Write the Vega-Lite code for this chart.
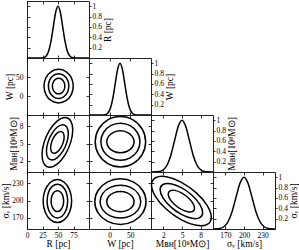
{
"$schema":"https://vega.github.io/schema/vega-lite/v6.json",
"padding":{"left":0,"top":0,"right":0,"bottom":0},
"columns":4,"spacing":0,"bounds":"flush",
"config":{
"view":{"stroke":"#222","strokeWidth":1},
"line":{"color":"black","strokeWidth":1.5},
"axis":{"domain":false,"grid":false,"tickSize":-3,"tickColor":"black","tickWidth":0.8,"labelFont":"Liberation Serif","labelFontSize":7.5,"labelColor":"black","labelPadding":5,"labelFlush":false,"labelOverlap":false,"titleFont":"Liberation Serif","titleFontSize":9.5,"titleFontWeight":"normal","titleColor":"black","titlePadding":1},
"axisY":{"labelPadding":7},
"axisX":{"labelPadding":5,"titlePadding":0}
},
"datasets":{
"A":[{"c":1,"i":0,"x":61.1,"y":26},{"c":1,"i":1,"x":59.75,"y":36.2},{"c":1,"i":2,"x":56.05,"y":43.67},{"c":1,"i":3,"x":51,"y":46.4},{"c":1,"i":4,"x":45.95,"y":43.67},{"c":1,"i":5,"x":42.25,"y":36.2},{"c":1,"i":6,"x":40.9,"y":26},{"c":1,"i":7,"x":42.25,"y":15.8},{"c":1,"i":8,"x":45.95,"y":8.33},{"c":1,"i":9,"x":51,"y":5.6},{"c":1,"i":10,"x":56.05,"y":8.33},{"c":1,"i":11,"x":59.75,"y":15.8},
{"c":2,"i":0,"x":67.5,"y":26},{"c":2,"i":1,"x":65.29,"y":42.35},{"c":2,"i":2,"x":59.25,"y":54.32},{"c":2,"i":3,"x":51,"y":58.7},{"c":2,"i":4,"x":42.75,"y":54.32},{"c":2,"i":5,"x":36.71,"y":42.35},{"c":2,"i":6,"x":34.5,"y":26},{"c":2,"i":7,"x":36.71,"y":9.65},{"c":2,"i":8,"x":42.75,"y":-2.32},{"c":2,"i":9,"x":51,"y":-6.7},{"c":2,"i":10,"x":59.25,"y":-2.32},{"c":2,"i":11,"x":65.29,"y":9.65},
{"c":3,"i":0,"x":74.6,"y":26},{"c":3,"i":1,"x":71.44,"y":48.2},{"c":3,"i":2,"x":62.8,"y":64.45},{"c":3,"i":3,"x":51,"y":70.4},{"c":3,"i":4,"x":39.2,"y":64.45},{"c":3,"i":5,"x":30.56,"y":48.2},{"c":3,"i":6,"x":27.4,"y":26},{"c":3,"i":7,"x":30.56,"y":3.8},{"c":3,"i":8,"x":39.2,"y":-12.45},{"c":3,"i":9,"x":51,"y":-18.4},{"c":3,"i":10,"x":62.8,"y":-12.45},{"c":3,"i":11,"x":71.44,"y":3.8}],
"B":[{"c":1,"i":0,"x":59.91,"y":6.16},{"c":1,"i":1,"x":58.45,"y":6.87},{"c":1,"i":2,"x":54.46,"y":7.12},{"c":1,"i":3,"x":49,"y":6.87},{"c":1,"i":4,"x":43.54,"y":6.16},{"c":1,"i":5,"x":39.55,"y":5.2},{"c":1,"i":6,"x":38.09,"y":4.24},{"c":1,"i":7,"x":39.55,"y":3.53},{"c":1,"i":8,"x":43.54,"y":3.28},{"c":1,"i":9,"x":49,"y":3.53},{"c":1,"i":10,"x":54.46,"y":4.24},{"c":1,"i":11,"x":58.45,"y":5.2},
{"c":2,"i":0,"x":66.63,"y":6.75},{"c":2,"i":1,"x":64.27,"y":7.89},{"c":2,"i":2,"x":57.82,"y":8.31},{"c":2,"i":3,"x":49,"y":7.89},{"c":2,"i":4,"x":40.18,"y":6.75},{"c":2,"i":5,"x":33.73,"y":5.2},{"c":2,"i":6,"x":31.37,"y":3.65},{"c":2,"i":7,"x":33.73,"y":2.51},{"c":2,"i":8,"x":40.18,"y":2.09},{"c":2,"i":9,"x":49,"y":2.51},{"c":2,"i":10,"x":57.82,"y":3.65},{"c":2,"i":11,"x":64.27,"y":5.2},
{"c":3,"i":0,"x":73.77,"y":7.38},{"c":3,"i":1,"x":70.45,"y":8.98},{"c":3,"i":2,"x":61.39,"y":9.57},{"c":3,"i":3,"x":49,"y":8.98},{"c":3,"i":4,"x":36.61,"y":7.38},{"c":3,"i":5,"x":27.55,"y":5.2},{"c":3,"i":6,"x":24.23,"y":3.02},{"c":3,"i":7,"x":27.55,"y":1.42},{"c":3,"i":8,"x":36.61,"y":0.83},{"c":3,"i":9,"x":49,"y":1.42},{"c":3,"i":10,"x":61.39,"y":3.02},{"c":3,"i":11,"x":70.45,"y":5.2}],
"C":[{"c":1,"i":0,"x":59.1,"y":199},{"c":1,"i":1,"x":57.75,"y":208.15},{"c":1,"i":2,"x":54.05,"y":214.85},{"c":1,"i":3,"x":49,"y":217.3},{"c":1,"i":4,"x":43.95,"y":214.85},{"c":1,"i":5,"x":40.25,"y":208.15},{"c":1,"i":6,"x":38.9,"y":199},{"c":1,"i":7,"x":40.25,"y":189.85},{"c":1,"i":8,"x":43.95,"y":183.15},{"c":1,"i":9,"x":49,"y":180.7},{"c":1,"i":10,"x":54.05,"y":183.15},{"c":1,"i":11,"x":57.75,"y":189.85},
{"c":2,"i":0,"x":65.6,"y":199},{"c":2,"i":1,"x":63.38,"y":213.85},{"c":2,"i":2,"x":57.3,"y":224.72},{"c":2,"i":3,"x":49,"y":228.7},{"c":2,"i":4,"x":40.7,"y":224.72},{"c":2,"i":5,"x":34.62,"y":213.85},{"c":2,"i":6,"x":32.4,"y":199},{"c":2,"i":7,"x":34.62,"y":184.15},{"c":2,"i":8,"x":40.7,"y":173.28},{"c":2,"i":9,"x":49,"y":169.3},{"c":2,"i":10,"x":57.3,"y":173.28},{"c":2,"i":11,"x":63.38,"y":184.15},
{"c":3,"i":0,"x":72,"y":199},{"c":3,"i":1,"x":68.92,"y":217.85},{"c":3,"i":2,"x":60.5,"y":231.65},{"c":3,"i":3,"x":49,"y":236.7},{"c":3,"i":4,"x":37.5,"y":231.65},{"c":3,"i":5,"x":29.08,"y":217.85},{"c":3,"i":6,"x":26,"y":199},{"c":3,"i":7,"x":29.08,"y":180.15},{"c":3,"i":8,"x":37.5,"y":166.35},{"c":3,"i":9,"x":49,"y":161.3},{"c":3,"i":10,"x":60.5,"y":166.35},{"c":3,"i":11,"x":68.92,"y":180.15}],
"D":[{"c":1,"i":0,"x":59.1,"y":5.3},{"c":1,"i":1,"x":54.66,"y":6.26},{"c":1,"i":2,"x":42.55,"y":6.96},{"c":1,"i":3,"x":26,"y":7.22},{"c":1,"i":4,"x":9.45,"y":6.96},{"c":1,"i":5,"x":-2.66,"y":6.26},{"c":1,"i":6,"x":-7.1,"y":5.3},{"c":1,"i":7,"x":-2.66,"y":4.34},{"c":1,"i":8,"x":9.45,"y":3.64},{"c":1,"i":9,"x":26,"y":3.38},{"c":1,"i":10,"x":42.55,"y":3.64},{"c":1,"i":11,"x":54.66,"y":4.34},
{"c":2,"i":0,"x":73.3,"y":5.3},{"c":2,"i":1,"x":66.96,"y":6.93},{"c":2,"i":2,"x":49.65,"y":8.12},{"c":2,"i":3,"x":26,"y":8.55},{"c":2,"i":4,"x":2.35,"y":8.12},{"c":2,"i":5,"x":-14.96,"y":6.93},{"c":2,"i":6,"x":-21.3,"y":5.3},{"c":2,"i":7,"x":-14.96,"y":3.68},{"c":2,"i":8,"x":2.35,"y":2.49},{"c":2,"i":9,"x":26,"y":2.05},{"c":2,"i":10,"x":49.65,"y":2.49},{"c":2,"i":11,"x":66.96,"y":3.68},
{"c":3,"i":0,"x":87,"y":5.3},{"c":3,"i":1,"x":78.83,"y":7.52},{"c":3,"i":2,"x":56.5,"y":9.15},{"c":3,"i":3,"x":26,"y":9.74},{"c":3,"i":4,"x":-4.5,"y":9.15},{"c":3,"i":5,"x":-26.83,"y":7.52},{"c":3,"i":6,"x":-35,"y":5.3},{"c":3,"i":7,"x":-26.83,"y":3.08},{"c":3,"i":8,"x":-4.5,"y":1.46},{"c":3,"i":9,"x":26,"y":0.86},{"c":3,"i":10,"x":56.5,"y":1.46},{"c":3,"i":11,"x":78.83,"y":3.08}],
"E":[{"c":1,"i":0,"x":59.1,"y":198},{"c":1,"i":1,"x":54.66,"y":206.9},{"c":1,"i":2,"x":42.55,"y":213.41},{"c":1,"i":3,"x":26,"y":215.8},{"c":1,"i":4,"x":9.45,"y":213.41},{"c":1,"i":5,"x":-2.66,"y":206.9},{"c":1,"i":6,"x":-7.1,"y":198},{"c":1,"i":7,"x":-2.66,"y":189.1},{"c":1,"i":8,"x":9.45,"y":182.59},{"c":1,"i":9,"x":26,"y":180.2},{"c":1,"i":10,"x":42.55,"y":182.59},{"c":1,"i":11,"x":54.66,"y":189.1},
{"c":2,"i":0,"x":75.2,"y":198},{"c":2,"i":1,"x":68.61,"y":212.4},{"c":2,"i":2,"x":50.6,"y":222.94},{"c":2,"i":3,"x":26,"y":226.8},{"c":2,"i":4,"x":1.4,"y":222.94},{"c":2,"i":5,"x":-16.61,"y":212.4},{"c":2,"i":6,"x":-23.2,"y":198},{"c":2,"i":7,"x":-16.61,"y":183.6},{"c":2,"i":8,"x":1.4,"y":173.06},{"c":2,"i":9,"x":26,"y":169.2},{"c":2,"i":10,"x":50.6,"y":173.06},{"c":2,"i":11,"x":68.61,"y":183.6},
{"c":3,"i":0,"x":88,"y":198},{"c":3,"i":1,"x":79.69,"y":218},{"c":3,"i":2,"x":57,"y":232.64},{"c":3,"i":3,"x":26,"y":238},{"c":3,"i":4,"x":-5,"y":232.64},{"c":3,"i":5,"x":-27.69,"y":218},{"c":3,"i":6,"x":-36,"y":198},{"c":3,"i":7,"x":-27.69,"y":178},{"c":3,"i":8,"x":-5,"y":163.36},{"c":3,"i":9,"x":26,"y":158},{"c":3,"i":10,"x":57,"y":163.36},{"c":3,"i":11,"x":79.69,"y":178}],
"F":[{"c":1,"i":0,"x":7.02,"y":186.59},{"c":1,"i":1,"x":6.74,"y":195.51},{"c":1,"i":2,"x":5.96,"y":205.36},{"c":1,"i":3,"x":4.9,"y":213.51},{"c":1,"i":4,"x":3.84,"y":217.77},{"c":1,"i":5,"x":3.06,"y":217.0},{"c":1,"i":6,"x":2.78,"y":211.41},{"c":1,"i":7,"x":3.06,"y":202.49},{"c":1,"i":8,"x":3.84,"y":192.64},{"c":1,"i":9,"x":4.9,"y":184.49},{"c":1,"i":10,"x":5.96,"y":180.23},{"c":1,"i":11,"x":6.74,"y":181.0},
{"c":2,"i":0,"x":8.33,"y":178.95},{"c":2,"i":1,"x":7.87,"y":193.36},{"c":2,"i":2,"x":6.61,"y":209.27},{"c":2,"i":3,"x":4.9,"y":222.44},{"c":2,"i":4,"x":3.19,"y":229.32},{"c":2,"i":5,"x":1.93,"y":228.08},{"c":2,"i":6,"x":1.47,"y":219.05},{"c":2,"i":7,"x":1.93,"y":204.64},{"c":2,"i":8,"x":3.19,"y":188.73},{"c":2,"i":9,"x":4.9,"y":175.56},{"c":2,"i":10,"x":6.61,"y":168.68},{"c":2,"i":11,"x":7.87,"y":169.92},
{"c":3,"i":0,"x":9.72,"y":170.83},{"c":3,"i":1,"x":9.07,"y":191.07},{"c":3,"i":2,"x":7.31,"y":213.43},{"c":3,"i":3,"x":4.9,"y":231.94},{"c":3,"i":4,"x":2.49,"y":241.6},{"c":3,"i":5,"x":0.73,"y":239.87},{"c":3,"i":6,"x":0.08,"y":227.17},{"c":3,"i":7,"x":0.73,"y":206.93},{"c":3,"i":8,"x":2.49,"y":184.57},{"c":3,"i":9,"x":4.9,"y":166.06},{"c":3,"i":10,"x":7.31,"y":156.4},{"c":3,"i":11,"x":9.07,"y":158.13}],
"GR":[{"x":0,"y":0},{"x":20,"y":0.0003},{"x":27.5,"y":0.0111},{"x":31.25,"y":0.0439},{"x":35,"y":0.1353},{"x":38.75,"y":0.3247},{"x":42.5,"y":0.6065},{"x":46.25,"y":0.8825},{"x":50,"y":1},{"x":53.75,"y":0.8825},{"x":57.5,"y":0.6065},{"x":61.25,"y":0.3247},{"x":65,"y":0.1353},{"x":68.75,"y":0.0439},{"x":72.5,"y":0.0111},{"x":80,"y":0.0003},{"x":100,"y":0}],
"GW":[{"x":-50,"y":0},{"x":-21,"y":0.0003},{"x":-9.5,"y":0.0111},{"x":-3.75,"y":0.0439},{"x":2,"y":0.1353},{"x":7.75,"y":0.3247},{"x":13.5,"y":0.6065},{"x":19.25,"y":0.8825},{"x":25,"y":1},{"x":30.75,"y":0.8825},{"x":36.5,"y":0.6065},{"x":42.25,"y":0.3247},{"x":48,"y":0.1353},{"x":53.75,"y":0.0439},{"x":59.5,"y":0.0111},{"x":71,"y":0.0003},{"x":100,"y":0}],
"GM":[{"x":0,"y":0},{"x":0.2,"y":0.0003},{"x":1.4,"y":0.0111},{"x":2,"y":0.0439},{"x":2.6,"y":0.1353},{"x":3.2,"y":0.3247},{"x":3.8,"y":0.6065},{"x":4.4,"y":0.8825},{"x":5,"y":1},{"x":5.6,"y":0.8825},{"x":6.2,"y":0.6065},{"x":6.8,"y":0.3247},{"x":7.4,"y":0.1353},{"x":8,"y":0.0439},{"x":8.6,"y":0.0111},{"x":9.8,"y":0.0003},{"x":10,"y":0}],
"GS":[{"x":150,"y":0},{"x":154.5,"y":0.0022},{"x":161,"y":0.0111},{"x":167.5,"y":0.0439},{"x":174,"y":0.1353},{"x":180.5,"y":0.3247},{"x":187,"y":0.6065},{"x":193.5,"y":0.8825},{"x":200,"y":1},{"x":206.5,"y":0.8825},{"x":213,"y":0.6065},{"x":219.5,"y":0.3247},{"x":226,"y":0.1353},{"x":232.5,"y":0.0439},{"x":239,"y":0.0111},{"x":245.5,"y":0.0022},{"x":250,"y":0}]
},
"concat":[
{"width":62,"height":57,"data":{"name":"GR"},"resolve":{"axis":{"x":"independent","y":"independent"}},"layer":[
 {"mark":{"type":"line","interpolate":"monotone"},"encoding":{"x":{"field":"x","type":"quantitative","scale":{"domain":[0,100],"nice":false,"zero":false},"axis":{"values":[0,25,50,75],"labels":false,"title":null}},"y":{"field":"y","type":"quantitative","scale":{"domain":[0,1.1],"nice":false,"zero":false},"axis":{"orient":"right","values":[0.2,0.4,0.6,0.8,1],"format":"~g","tickSize":2,"labelPadding":1,"title":"R [pc]","titleAngle":270,"titleBaseline":"top","titlePadding":1}}}},
 {"mark":{"type":"line","interpolate":"monotone","opacity":0},"encoding":{"x":{"field":"x","type":"quantitative","scale":{"domain":[0,100],"nice":false,"zero":false},"axis":{"orient":"top","values":[0,25,50,75],"labels":false,"title":null}},"y":{"field":"y","type":"quantitative","scale":{"domain":[0,1.1],"nice":false,"zero":false},"axis":{"orient":"left","values":[0.2,0.4,0.6,0.8,1],"labels":false,"title":null}}}}]},
{"width":62,"height":57,"view":{"stroke":null},"data":{"values":[{}]},"mark":{"type":"point","opacity":0},"encoding":{}},
{"width":62,"height":57,"view":{"stroke":null},"data":{"values":[{}]},"mark":{"type":"point","opacity":0},"encoding":{}},
{"width":62,"height":57,"view":{"stroke":null},"data":{"values":[{}]},"mark":{"type":"point","opacity":0},"encoding":{}},

{"width":62,"height":57,"data":{"name":"A"},"resolve":{"axis":{"x":"independent","y":"independent"}},"layer":[
 {"mark":{"type":"line","interpolate":"cardinal-closed"},"encoding":{"x":{"field":"x","type":"quantitative","scale":{"domain":[0,100],"nice":false,"zero":false},"axis":{"values":[0,25,50,75],"labels":false,"title":null}},"y":{"field":"y","type":"quantitative","scale":{"domain":[-50,100],"nice":false,"zero":false},"axis":{"values":[0,50],"title":"W [pc]"}},"detail":{"field":"c","type":"nominal"},"order":{"field":"i","type":"quantitative"}}},
 {"mark":{"type":"line","interpolate":"cardinal-closed","opacity":0},"encoding":{"x":{"field":"x","type":"quantitative","scale":{"domain":[0,100],"nice":false,"zero":false},"axis":{"orient":"top","values":[0,25,50,75],"labels":false,"title":null}},"y":{"field":"y","type":"quantitative","scale":{"domain":[-50,100],"nice":false,"zero":false},"axis":{"orient":"right","values":[0,50],"labels":false,"title":null}},"detail":{"field":"c","type":"nominal"},"order":{"field":"i","type":"quantitative"}}}]},
{"width":62,"height":57,"data":{"name":"GW"},"resolve":{"axis":{"x":"independent","y":"independent"}},"layer":[
 {"mark":{"type":"line","interpolate":"monotone"},"encoding":{"x":{"field":"x","type":"quantitative","scale":{"domain":[-50,100],"nice":false,"zero":false},"axis":{"values":[0,50],"labels":false,"title":null}},"y":{"field":"y","type":"quantitative","scale":{"domain":[0,1.1],"nice":false,"zero":false},"axis":{"orient":"right","values":[0.2,0.4,0.6,0.8,1],"format":"~g","tickSize":2,"labelPadding":1,"title":"W [pc]","titleAngle":270,"titleBaseline":"top","titlePadding":1}}}},
 {"mark":{"type":"line","interpolate":"monotone","opacity":0},"encoding":{"x":{"field":"x","type":"quantitative","scale":{"domain":[-50,100],"nice":false,"zero":false},"axis":{"orient":"top","values":[0,50],"labels":false,"title":null}},"y":{"field":"y","type":"quantitative","scale":{"domain":[0,1.1],"nice":false,"zero":false},"axis":{"orient":"left","values":[0.2,0.4,0.6,0.8,1],"labels":false,"title":null}}}}]},
{"width":62,"height":57,"view":{"stroke":null},"data":{"values":[{}]},"mark":{"type":"point","opacity":0},"encoding":{}},
{"width":62,"height":57,"view":{"stroke":null},"data":{"values":[{}]},"mark":{"type":"point","opacity":0},"encoding":{}},

{"width":62,"height":57,"data":{"name":"B"},"resolve":{"axis":{"x":"independent","y":"independent"}},"layer":[
 {"mark":{"type":"line","interpolate":"cardinal-closed"},"encoding":{"x":{"field":"x","type":"quantitative","scale":{"domain":[0,100],"nice":false,"zero":false},"axis":{"values":[0,25,50,75],"labels":false,"title":null}},"y":{"field":"y","type":"quantitative","scale":{"domain":[0,10],"nice":false,"zero":false},"axis":{"values":[2,5,8],"title":"Mʙʜ[10⁸M⊙]"}},"detail":{"field":"c","type":"nominal"},"order":{"field":"i","type":"quantitative"}}},
 {"mark":{"type":"line","interpolate":"cardinal-closed","opacity":0},"encoding":{"x":{"field":"x","type":"quantitative","scale":{"domain":[0,100],"nice":false,"zero":false},"axis":{"orient":"top","values":[0,25,50,75],"labels":false,"title":null}},"y":{"field":"y","type":"quantitative","scale":{"domain":[0,10],"nice":false,"zero":false},"axis":{"orient":"right","values":[2,5,8],"labels":false,"title":null}},"detail":{"field":"c","type":"nominal"},"order":{"field":"i","type":"quantitative"}}}]},
{"width":62,"height":57,"data":{"name":"D"},"resolve":{"axis":{"x":"independent","y":"independent"}},"layer":[
 {"mark":{"type":"line","interpolate":"cardinal-closed"},"encoding":{"x":{"field":"x","type":"quantitative","scale":{"domain":[-50,100],"nice":false,"zero":false},"axis":{"values":[0,50],"labels":false,"title":null}},"y":{"field":"y","type":"quantitative","scale":{"domain":[0,10],"nice":false,"zero":false},"axis":{"values":[2,5,8],"labels":false,"title":null}},"detail":{"field":"c","type":"nominal"},"order":{"field":"i","type":"quantitative"}}},
 {"mark":{"type":"line","interpolate":"cardinal-closed","opacity":0},"encoding":{"x":{"field":"x","type":"quantitative","scale":{"domain":[-50,100],"nice":false,"zero":false},"axis":{"orient":"top","values":[0,50],"labels":false,"title":null}},"y":{"field":"y","type":"quantitative","scale":{"domain":[0,10],"nice":false,"zero":false},"axis":{"orient":"right","values":[2,5,8],"labels":false,"title":null}},"detail":{"field":"c","type":"nominal"},"order":{"field":"i","type":"quantitative"}}}]},
{"width":62,"height":57,"data":{"name":"GM"},"resolve":{"axis":{"x":"independent","y":"independent"}},"layer":[
 {"mark":{"type":"line","interpolate":"monotone"},"encoding":{"x":{"field":"x","type":"quantitative","scale":{"domain":[0,10],"nice":false,"zero":false},"axis":{"values":[2,5,8],"labels":false,"title":null}},"y":{"field":"y","type":"quantitative","scale":{"domain":[0,1.1],"nice":false,"zero":false},"axis":{"orient":"right","values":[0.2,0.4,0.6,0.8,1],"format":"~g","tickSize":2,"labelPadding":1,"title":"Mʙʜ[10⁸M⊙]","titleAngle":270,"titleBaseline":"top","titlePadding":1}}}},
 {"mark":{"type":"line","interpolate":"monotone","opacity":0},"encoding":{"x":{"field":"x","type":"quantitative","scale":{"domain":[0,10],"nice":false,"zero":false},"axis":{"orient":"top","values":[2,5,8],"labels":false,"title":null}},"y":{"field":"y","type":"quantitative","scale":{"domain":[0,1.1],"nice":false,"zero":false},"axis":{"orient":"left","values":[0.2,0.4,0.6,0.8,1],"labels":false,"title":null}}}}]},
{"width":62,"height":57,"view":{"stroke":null},"data":{"values":[{}]},"mark":{"type":"point","opacity":0},"encoding":{}},

{"width":62,"height":57,"data":{"name":"C"},"resolve":{"axis":{"x":"independent","y":"independent"}},"layer":[
 {"mark":{"type":"line","interpolate":"cardinal-closed"},"encoding":{"x":{"field":"x","type":"quantitative","scale":{"domain":[0,100],"nice":false,"zero":false},"axis":{"values":[0,25,50,75],"title":"R [pc]"}},"y":{"field":"y","type":"quantitative","scale":{"domain":[150,250],"nice":false,"zero":false},"axis":{"values":[170,200,230],"title":"σᵥ [km/s]"}},"detail":{"field":"c","type":"nominal"},"order":{"field":"i","type":"quantitative"}}},
 {"mark":{"type":"line","interpolate":"cardinal-closed","opacity":0},"encoding":{"x":{"field":"x","type":"quantitative","scale":{"domain":[0,100],"nice":false,"zero":false},"axis":{"orient":"top","values":[0,25,50,75],"labels":false,"title":null}},"y":{"field":"y","type":"quantitative","scale":{"domain":[150,250],"nice":false,"zero":false},"axis":{"orient":"right","values":[170,200,230],"labels":false,"title":null}},"detail":{"field":"c","type":"nominal"},"order":{"field":"i","type":"quantitative"}}}]},
{"width":62,"height":57,"data":{"name":"E"},"resolve":{"axis":{"x":"independent","y":"independent"}},"layer":[
 {"mark":{"type":"line","interpolate":"cardinal-closed"},"encoding":{"x":{"field":"x","type":"quantitative","scale":{"domain":[-50,100],"nice":false,"zero":false},"axis":{"values":[0,50],"title":"W [pc]"}},"y":{"field":"y","type":"quantitative","scale":{"domain":[150,250],"nice":false,"zero":false},"axis":{"values":[170,200,230],"labels":false,"title":null}},"detail":{"field":"c","type":"nominal"},"order":{"field":"i","type":"quantitative"}}},
 {"mark":{"type":"line","interpolate":"cardinal-closed","opacity":0},"encoding":{"x":{"field":"x","type":"quantitative","scale":{"domain":[-50,100],"nice":false,"zero":false},"axis":{"orient":"top","values":[0,50],"labels":false,"title":null}},"y":{"field":"y","type":"quantitative","scale":{"domain":[150,250],"nice":false,"zero":false},"axis":{"orient":"right","values":[170,200,230],"labels":false,"title":null}},"detail":{"field":"c","type":"nominal"},"order":{"field":"i","type":"quantitative"}}}]},
{"width":62,"height":57,"data":{"name":"F"},"resolve":{"axis":{"x":"independent","y":"independent"}},"layer":[
 {"mark":{"type":"line","interpolate":"cardinal-closed"},"encoding":{"x":{"field":"x","type":"quantitative","scale":{"domain":[0,10],"nice":false,"zero":false},"axis":{"values":[2,5,8],"title":"Mʙʜ[10⁸M⊙]"}},"y":{"field":"y","type":"quantitative","scale":{"domain":[150,250],"nice":false,"zero":false},"axis":{"values":[170,200,230],"labels":false,"title":null}},"detail":{"field":"c","type":"nominal"},"order":{"field":"i","type":"quantitative"}}},
 {"mark":{"type":"line","interpolate":"cardinal-closed","opacity":0},"encoding":{"x":{"field":"x","type":"quantitative","scale":{"domain":[0,10],"nice":false,"zero":false},"axis":{"orient":"top","values":[2,5,8],"labels":false,"title":null}},"y":{"field":"y","type":"quantitative","scale":{"domain":[150,250],"nice":false,"zero":false},"axis":{"orient":"right","values":[170,200,230],"labels":false,"title":null}},"detail":{"field":"c","type":"nominal"},"order":{"field":"i","type":"quantitative"}}}]},
{"width":62,"height":57,"data":{"name":"GS"},"resolve":{"axis":{"x":"independent","y":"independent"}},"layer":[
 {"mark":{"type":"line","interpolate":"monotone"},"encoding":{"x":{"field":"x","type":"quantitative","scale":{"domain":[150,250],"nice":false,"zero":false},"axis":{"values":[170,200,230],"title":"σᵥ [km/s]"}},"y":{"field":"y","type":"quantitative","scale":{"domain":[0,1.1],"nice":false,"zero":false},"axis":{"orient":"right","values":[0.2,0.4,0.6,0.8,1],"format":"~g","tickSize":2,"labelPadding":1,"title":"σᵥ [km/s]","titleAngle":270,"titleBaseline":"top","titlePadding":1}}}},
 {"mark":{"type":"line","interpolate":"monotone","opacity":0},"encoding":{"x":{"field":"x","type":"quantitative","scale":{"domain":[150,250],"nice":false,"zero":false},"axis":{"orient":"top","values":[170,200,230],"labels":false,"title":null}},"y":{"field":"y","type":"quantitative","scale":{"domain":[0,1.1],"nice":false,"zero":false},"axis":{"orient":"left","values":[0.2,0.4,0.6,0.8,1],"labels":false,"title":null}}}}]}
]
}
